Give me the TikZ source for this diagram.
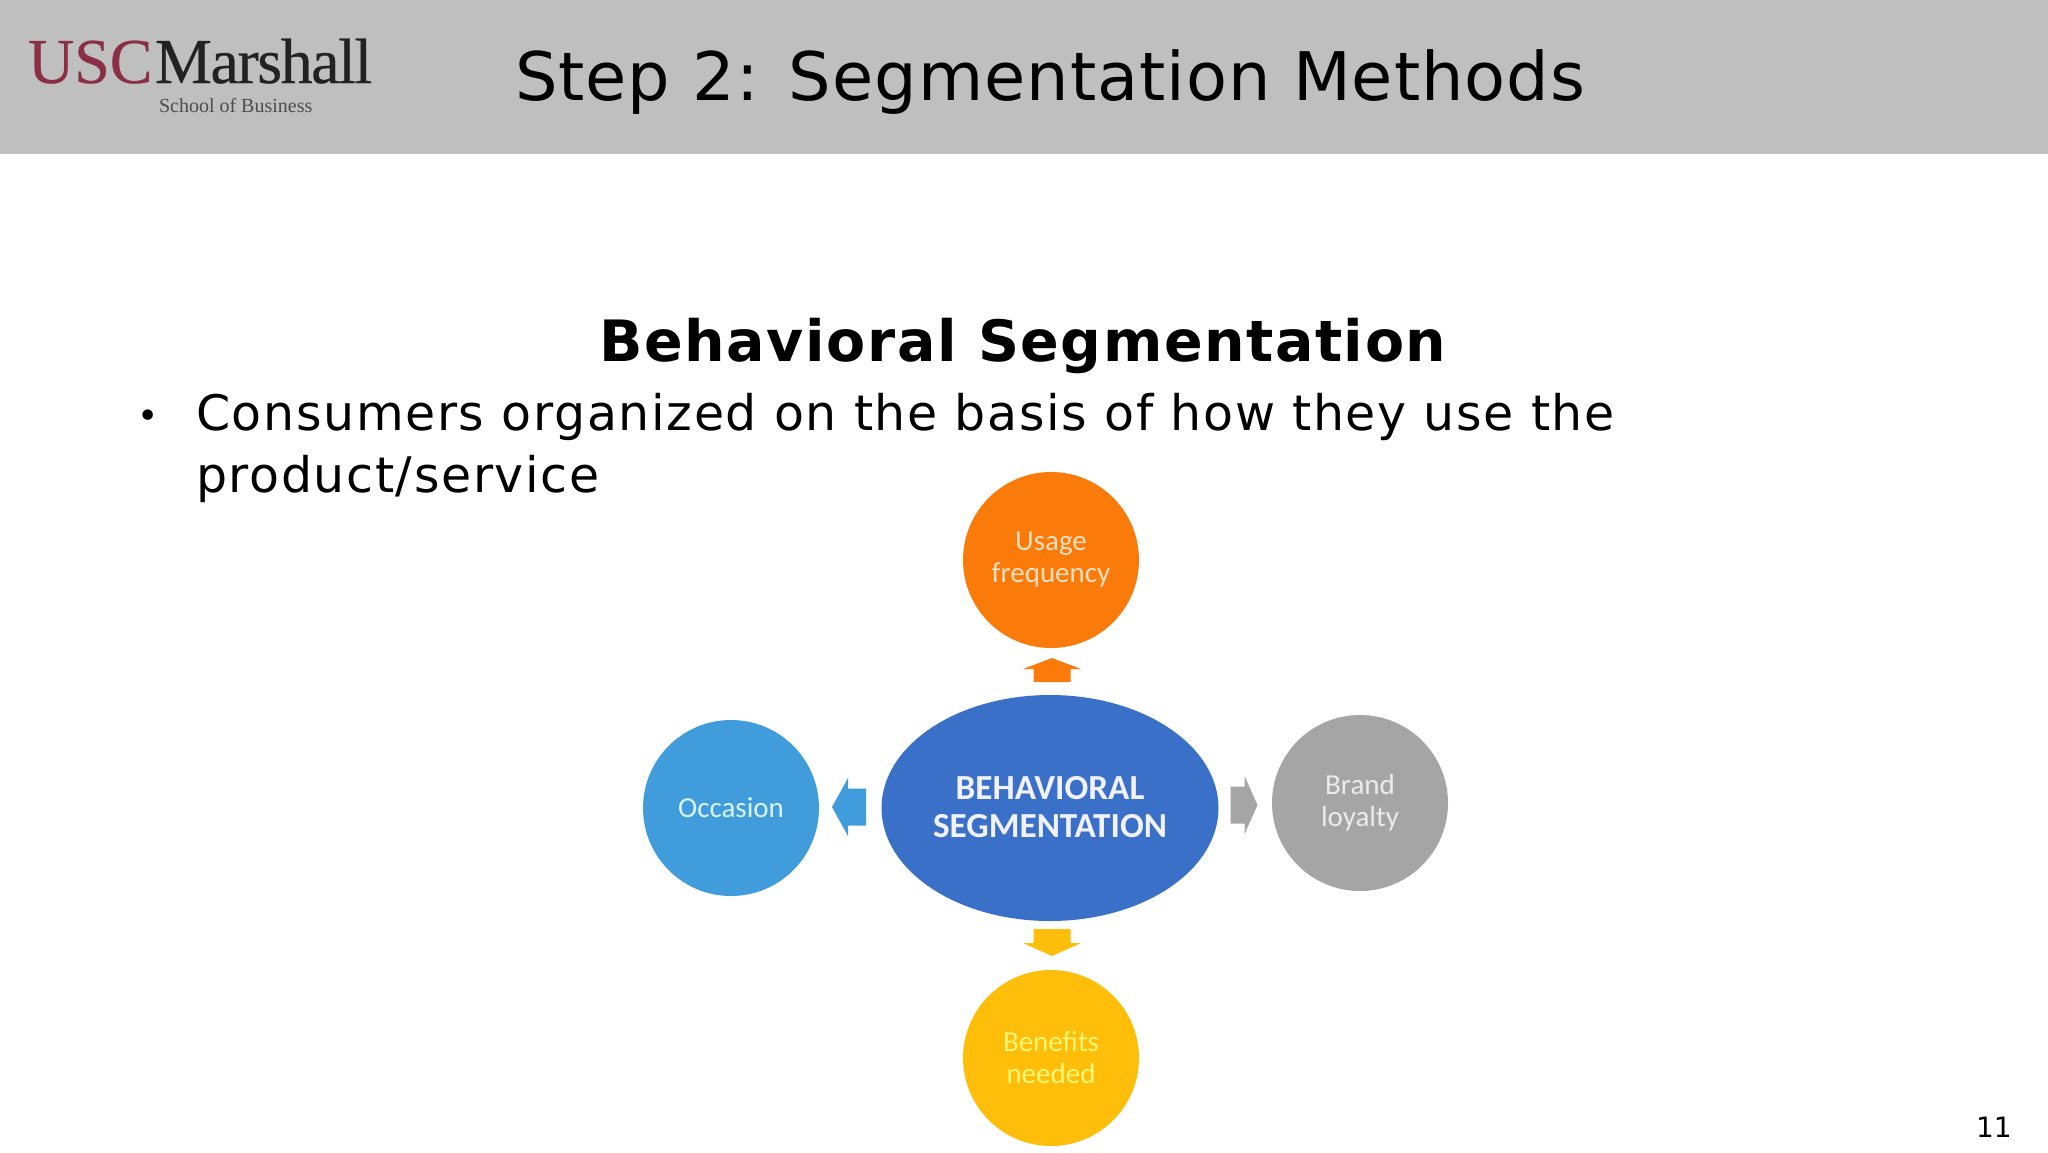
\documentclass[tikz,border=0pt]{standalone}
\usepackage{fontspec}
\usetikzlibrary{shapes.geometric}
\setmainfont{DejaVu Sans}
\newfontfamily\titlefont[LetterSpace=1.5]{DejaVu Sans}
\newfontfamily\headfont[LetterSpace=2.7]{DejaVu Sans Bold}
\newfontfamily\bodyfont[LetterSpace=3.35]{DejaVu Sans}
\newfontfamily\uscfont[FakeBold=0.4]{Liberation Serif}
\newfontfamily\marshfont[LetterSpace=-2.3,FakeBold=0.4]{Liberation Serif}
\newfontfamily\logofont{Liberation Serif}
\newfontfamily\diagfont{Carlito}
\definecolor{hdr}{HTML}{BFBFBF}
\definecolor{uscred}{HTML}{8A2F45}
\definecolor{logoblack}{HTML}{222222}
\definecolor{logogray}{HTML}{4D4D4D}
\definecolor{orangec}{HTML}{FA7A0A}
\definecolor{bluec}{HTML}{3A70C8}
\definecolor{skyc}{HTML}{419CDC}
\definecolor{grayc}{HTML}{A5A5A5}
\definecolor{yellowc}{HTML}{FFBE0A}
\newcommand{\blockarr}[5]{% colour, centre, rotation, total length, head length
  \fill[#1,shift={(#2)},rotate=#3] (-#4/2,-18.5) -- (#4/2-#5,-18.5) -- (#4/2-#5,-29) -- (#4/2,0) -- (#4/2-#5,29) -- (#4/2-#5,18.5) -- (-#4/2,18.5) -- cycle;}
\tikzset{
  txt/.style={inner sep=0pt,outer sep=0pt,anchor=base west,text=black},
  petal/.style={circle,minimum size=88pt,inner sep=0pt,draw=none,font=\diagfont\fontsize{14.5}{16}\selectfont,align=center},
  hub/.style={ellipse,minimum width=168.5pt,minimum height=113pt,inner sep=0pt,fill=bluec,text=white!95!blue,font=\diagfont\bfseries\fontsize{17.6}{19}\selectfont,align=center}
}
\begin{document}
\begin{tikzpicture}[x=0.5pt,y=-0.5pt]
\useasboundingbox (0,0) rectangle (2048,1152);
\fill[white] (0,0) rectangle (2048,1152);
\fill[hdr] (0,0) rectangle (2048,154);
% logo
\node[txt,text=uscred,font=\uscfont\fontsize{32}{32}\selectfont] (usc) at (28,83) {USC};
\node[txt,text=logoblack,font=\marshfont\fontsize{32}{32}\selectfont] (marshall) at (155,83) {Marshall};
\node[txt,text=logogray,font=\logofont\fontsize{10}{10}\selectfont] (school) at (159,112) {School of Business};
% texts
\node[txt,font=\titlefont\fontsize{33.5}{33.5}\selectfont] (title) at (515,100) {Step 2: Segmentation Methods};
\node[inner sep=0pt,anchor=base,font=\headfont\fontsize{28.5}{28.5}\selectfont] (head) at (1023,361) {Behavioral Segmentation};
\node[txt,font=\fontsize{18}{18}\selectfont] (bullet) at (137,428) {•};
\node[txt,font=\bodyfont\fontsize{24.5}{24.5}\selectfont] (l1) at (196,430) {Consumers organized on the basis of how they use the};
\node[txt,font=\bodyfont\fontsize{24.5}{24.5}\selectfont] (l2) at (196,492) {product/service};
\node[txt,font=\fontsize{14}{14}\selectfont] (page) at (1976,1137) {11};
% diagram
\node[hub] (hubn) at (1050,808) {\raisebox{1pt}{BEHAVIORAL}\\\raisebox{1pt}{SEGMENTATION}};
\node[petal,fill=orangec,text=orange!25!white] (usage) at (1051,560) {Usage\\frequency};
\node[petal,fill=skyc,text=cyan!15!white] (occ) at (731,808) {Occasion};
\node[petal,fill=grayc,text=white!92!black] (brand) at (1360,803) {Brand\\loyalty};
\node[petal,fill=yellowc,text=yellow!55!white] (ben) at (1051,1058) {Benefits\\needed};
\coordinate (au) at (1052,670);
\coordinate (al) at (849,807);
\coordinate (ar) at (1244,805);
\coordinate (ad) at (1052,942.5);
\blockarr{orangec}{au}{90}{24}{11}
\blockarr{skyc}{al}{180}{34}{16}
\blockarr{grayc}{ar}{0}{27}{13}
\blockarr{yellowc}{ad}{-90}{27}{13}
\end{tikzpicture}
\end{document}
